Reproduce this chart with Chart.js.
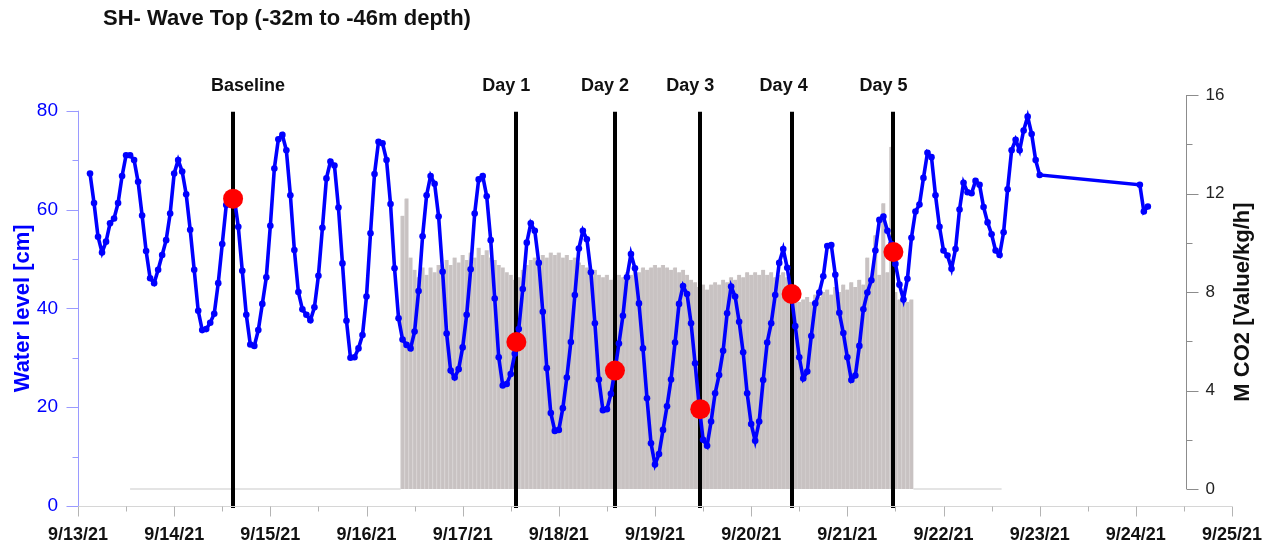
<!DOCTYPE html>
<html>
<head>
<meta charset="utf-8">
<title>SH- Wave Top</title>
<script src="https://cdn.jsdelivr.net/npm/chart.js@4.4.1/dist/chart.umd.min.js"></script>
<style>
  html, body { margin: 0; padding: 0; background: #fff; }
  #chart { display: block; }
</style>
</head>
<body>
<canvas id="chart" width="1271" height="546"></canvas>
<script>
(function () {
    'use strict';

    // all times are hours counted from 9/13/21 00:00
    const dayLabels = ['9/13/21', '9/14/21', '9/15/21', '9/16/21', '9/17/21', '9/18/21', '9/19/21',
        '9/20/21', '9/21/21', '9/22/21', '9/23/21', '9/24/21', '9/25/21'];

    // water level, one reading per hour starting at 9/13 03:00
    const levelStartHour = 3;
    const levelValues = [
        67.3, 61.3, 54.5, 51.3, 53.5, 57.2, 58.2, 61.3, 66.8, 71.0,
        71.0, 70.0, 65.6, 58.8, 51.6, 46.1, 45.1, 47.8, 50.8, 53.8,
        59.2, 67.3, 70.0, 67.7, 63.1, 55.9, 47.8, 39.5, 35.6, 35.8,
        37.1, 38.9, 45.1, 53.0, 60.9, 63.2, 62.3, 56.5, 47.6, 38.7,
        32.7, 32.4, 35.6, 40.9, 46.3, 56.7, 68.3, 74.2, 75.1, 72.0,
        62.9, 51.8, 43.3, 39.8, 38.7, 37.6, 40.2, 46.6, 56.3, 66.3,
        69.7, 68.9, 60.4, 49.1, 37.5, 30.0, 30.1, 31.9, 34.6, 42.4,
        55.2, 67.2, 73.7, 73.4, 70.0, 61.1, 48.1, 38.0, 33.7, 32.6,
        31.9, 35.3, 43.5, 54.6, 62.9, 66.8, 65.2, 58.6, 47.4, 34.9,
        27.4, 26.0, 27.7, 32.1, 38.7, 47.9, 59.2, 66.1, 66.8, 62.7,
        53.8, 42.0, 30.1, 24.4, 24.7, 26.7, 30.8, 35.8, 43.9, 53.3,
        57.2, 55.7, 49.2, 39.3, 27.9, 18.8, 15.2, 15.4, 19.8, 26.0,
        33.2, 42.7, 52.1, 55.7, 54.0, 47.3, 37.0, 25.6, 19.4, 19.6,
        22.7, 27.4, 32.9, 38.5, 46.3, 51.0, 48.1, 41.0, 31.9, 21.8,
        12.7, 8.4, 10.5, 15.4, 20.2, 25.6, 33.1, 40.9, 44.5, 42.9,
        37.0, 28.9, 20.5, 13.4, 12.2, 17.1, 22.8, 26.5, 31.4, 39.0,
        44.4, 42.4, 37.3, 31.1, 22.8, 16.6, 13.2, 17.1, 25.5, 33.1,
        37.0, 42.7, 49.2, 52.0, 48.2, 42.9, 36.4, 30.1, 25.8, 27.2,
        34.4, 41.0, 43.2, 46.5, 52.6, 52.8, 46.8, 39.1, 35.0, 30.1,
        25.5, 26.4, 32.4, 39.8, 43.2, 45.7, 51.7, 57.9, 58.6, 55.7,
        53.0, 49.0, 44.8, 41.8, 46.0, 54.3, 59.6, 61.0, 66.4, 71.5,
        70.6, 62.9, 56.5, 51.7, 50.7, 48.0, 52.0, 60.0, 65.4, 63.5,
        63.3, 65.8, 65.0, 60.5, 57.4, 55.0, 51.7, 50.8, 55.4, 64.1,
        72.0, 74.1, 72.0, 76.0, 78.8, 75.3, 70.0, 67.0
    ];
    // last readings after the logger gap
    const lateHours = [265, 266, 267];
    const lateValues = [65.0, 59.6, 60.6];

    // CO2 injection rate, one reading per hour starting at 9/16 09:00
    const co2StartHour = 81;
    const co2Values = [
        11.1, 11.8, 9.4, 8.9, 8.6, 9.0, 8.7, 9.0, 8.8, 9.1,
        9.0, 9.3, 9.1, 9.4, 9.2, 9.5, 9.3, 9.6, 9.4, 9.8,
        9.5, 9.7, 9.4, 9.3, 9.1, 9.0, 8.8, 8.7, 8.5, 8.6,
        8.9, 9.1, 9.3, 9.4, 9.3, 9.5, 9.4, 9.6, 9.5, 9.6,
        9.4, 9.5, 9.3, 9.4, 9.2, 9.1, 9.0, 8.8, 8.9, 8.7,
        8.6, 8.7, 8.5, 8.6, 8.7, 8.6, 8.8, 8.7, 8.9, 8.8,
        9.0, 8.9, 9.0, 9.1, 9.0, 9.1, 9.0, 8.9, 9.0, 8.8,
        8.9, 8.7, 8.5, 8.4, 8.2, 8.3, 8.1, 8.3, 8.4, 8.3,
        8.5, 8.4, 8.6, 8.5, 8.7, 8.6, 8.8, 8.7, 8.8, 8.7,
        8.9, 8.7, 8.8, 8.6, 8.7, 8.8, 8.6, 8.3, 7.8, 7.6,
        7.7, 7.8, 7.6, 7.9, 7.8, 8.0, 8.1, 7.9, 8.2, 8.0,
        8.3, 8.1, 8.4, 8.2, 8.5, 8.3, 9.4, 8.6, 10.3, 8.7,
        11.6, 8.8, 13.9, 8.0, 7.7, 7.8, 7.6, 7.7
    ];
    // spans where the flow meter reads zero
    const co2IdleSpans = [[13, 80.5], [208.5, 230.5]];

    const eventNames = ['Baseline', 'Day 1', 'Day 2', 'Day 3', 'Day 4', 'Day 5'];
    const eventHours = [38.7, 109.4, 134.0, 155.3, 178.1, 203.5];
    const eventLevels = [62.2, 33.2, 27.4, 19.6, 42.9, 51.4];

    const levelTicks = [0, 20, 40, 60, 80];
    const co2Ticks = [0, 4, 8, 12, 16];

    const FONT = "'Liberation Sans', Arial, Helvetica, sans-serif";
    Chart.defaults.font.family = FONT;

    const levelPoints = levelValues.map(function (v, i) { return { x: levelStartHour + i, y: v }; })
        .concat(lateHours.map(function (h, i) { return { x: h, y: lateValues[i] }; }));
    const co2Bars = co2Values.map(function (v, i) { return { x: co2StartHour + i, y: v }; });
    const idlePoints = [];
    co2IdleSpans.forEach(function (span) {
        idlePoints.push({ x: span[0], y: 0 }, { x: span[1], y: 0 }, { x: span[1] + 1, y: null });
    });
    const eventPoints = eventHours.map(function (h, i) { return { x: h, y: eventLevels[i] }; });

    function drawText(ctx, text, x, y, font, color, align, angle) {
        ctx.save();
        ctx.translate(x, y);
        if (angle) ctx.rotate(angle);
        ctx.font = font;
        ctx.fillStyle = color;
        ctx.textAlign = align || 'center';
        ctx.textBaseline = 'middle';
        ctx.fillText(text, 0, 0);
        ctx.restore();
    }

    function line(ctx, x1, y1, x2, y2) {
        ctx.beginPath();
        ctx.moveTo(x1, y1);
        ctx.lineTo(x2, y2);
        ctx.stroke();
    }

    const framePlugin = {
        id: 'frame',
        // event markers sit above the CO2 bars but under the water level trace
        afterDatasetDraw: function (chart, args) {
            if (args.index !== 0) return;
            const ctx = chart.ctx;
            const xs = chart.scales.x;
            const ys = chart.scales.y;
            ctx.save();
            ctx.strokeStyle = '#000';
            ctx.lineWidth = 4;
            eventHours.forEach(function (h) {
                const x = Math.round(xs.getPixelForValue(h));
                line(ctx, x, ys.getPixelForValue(80) + 1, x, chart.chartArea.bottom + 2);
            });
            ctx.restore();
        },
        afterDraw: function (chart) {
            const ctx = chart.ctx;
            const area = chart.chartArea;
            const xs = chart.scales.x;
            const ys = chart.scales.y;
            const ys1 = chart.scales.y1;

            drawText(ctx, 'SH- Wave Top (-32m to -46m depth)', 103, 19, 'bold 22px ' + FONT, '#111', 'left');

            const labelShift = [15, -10, -10, -10, -8, -10];
            eventNames.forEach(function (name, i) {
                const x = xs.getPixelForValue(eventHours[i]) + labelShift[i];
                drawText(ctx, name, x, 86, 'bold 18px ' + FONT, '#111');
            });

            ctx.save();
            ctx.lineWidth = 1;

            // left axis
            const lx = area.left + 0.5;
            ctx.strokeStyle = '#9a9aff';
            line(ctx, lx, ys.getPixelForValue(80), lx, ys.getPixelForValue(0));
            for (let v = levelTicks[0]; v <= levelTicks[levelTicks.length - 1]; v += 10) {
                const y = Math.round(ys.getPixelForValue(v)) + 0.5;
                line(ctx, lx - (levelTicks.indexOf(v) >= 0 ? 12 : 6), y, lx, y);
            }

            // time axis
            const by = area.bottom + 0.5;
            ctx.strokeStyle = '#d6d6d6';
            line(ctx, area.left, by, area.right, by);
            ctx.strokeStyle = '#b4b4b4';
            dayLabels.forEach(function (_, d) {
                const x = Math.round(xs.getPixelForValue(d * 24)) + 0.5;
                line(ctx, x, by, x, by + 10);
                if (d < dayLabels.length - 1) {
                    const xm = Math.round(xs.getPixelForValue(d * 24 + 12)) + 0.5;
                    line(ctx, xm, by, xm, by + 5);
                }
            });

            // CO2 axis
            const rx = area.right - 46 + 0.5;
            ctx.strokeStyle = '#8c8c8c';
            line(ctx, rx, ys1.getPixelForValue(16), rx, ys1.getPixelForValue(0));
            for (let v = co2Ticks[0]; v <= co2Ticks[co2Ticks.length - 1]; v += 2) {
                const y = Math.round(ys1.getPixelForValue(v)) + 0.5;
                line(ctx, rx, y, rx + (co2Ticks.indexOf(v) >= 0 ? 12 : 6), y);
            }
            ctx.restore();
            co2Ticks.forEach(function (v) {
                drawText(ctx, String(v), rx + 19, ys1.getPixelForValue(v), '17px ' + FONT, '#222', 'left');
            });

            drawText(ctx, 'Water level [cm]', 23, (ys.getPixelForValue(0) + ys.getPixelForValue(80)) / 2,
                'bold 22px ' + FONT, '#0000ff', 'center', -Math.PI / 2);
            drawText(ctx, 'M CO2 [Value/kg/h]', 1243, 302, 'bold 22px ' + FONT, '#111', 'center', -Math.PI / 2);
        }
    };

    new Chart(document.getElementById('chart'), {
        type: 'bar',
        data: {
            datasets: [{
                type: 'bar',
                label: 'M CO2',
                data: co2Bars,
                yAxisID: 'y1',
                backgroundColor: '#c8c2c2',
                borderColor: '#d1cccc',
                borderWidth: { left: 1, right: 0, top: 0, bottom: 0 },
                borderSkipped: false,
                barPercentage: 1,
                categoryPercentage: 1,
                order: 3
            }, {
                type: 'line',
                label: 'M CO2 idle',
                data: idlePoints,
                yAxisID: 'y1',
                borderColor: '#e4e4e4',
                borderWidth: 2,
                pointRadius: 0,
                spanGaps: false,
                order: 4
            }, {
                type: 'line',
                label: 'Water level',
                data: levelPoints,
                yAxisID: 'y',
                borderColor: '#0000ff',
                backgroundColor: '#0000ff',
                borderWidth: 3.6,
                pointRadius: 3.3,
                pointBorderWidth: 0,
                tension: 0,
                order: 1
            }, {
                type: 'line',
                label: 'Sampling',
                data: eventPoints,
                yAxisID: 'y',
                showLine: false,
                pointRadius: 10,
                pointBorderWidth: 0,
                backgroundColor: '#ff0000',
                order: 0
            }]
        },
        options: {
            responsive: false,
            animation: false,
            layout: { padding: { top: 95, right: 39, bottom: 0, left: 0 } },
            plugins: {
                legend: { display: false },
                tooltip: { enabled: false }
            },
            scales: {
                x: {
                    type: 'linear',
                    min: 0,
                    max: 288,
                    offset: false,
                    grid: { display: false, drawTicks: false },
                    border: { display: false },
                    afterBuildTicks: function (axis) {
                        axis.ticks = dayLabels.map(function (_, i) { return { value: i * 24 }; });
                    },
                    afterFit: function (axis) {
                        // fixed band under the plot; the layout padding keeps the end labels in view
                        axis.height = 40;
                        axis.paddingLeft = 0;
                        axis.paddingRight = 0;
                    },
                    ticks: {
                        autoSkip: false,
                        maxRotation: 0,
                        padding: 18,
                        color: '#111',
                        font: { size: 18, weight: 'bold' },
                        callback: function (value) { return dayLabels[Math.round(value / 24)]; }
                    }
                },
                y: {
                    position: 'left',
                    min: 0,
                    max: 83.18,
                    grid: { display: false, drawTicks: false },
                    border: { display: false },
                    afterBuildTicks: function (axis) {
                        axis.ticks = levelTicks.map(function (v) { return { value: v }; });
                    },
                    afterFit: function (axis) { axis.width = 78; },
                    ticks: {
                        padding: 20,
                        color: '#0000ff',
                        font: { size: 19 }
                    }
                },
                y1: {
                    position: 'right',
                    display: false,
                    min: -0.69,
                    max: 16
                }
            }
        },
        plugins: [framePlugin]
    });
})();
</script>
</body>
</html>
